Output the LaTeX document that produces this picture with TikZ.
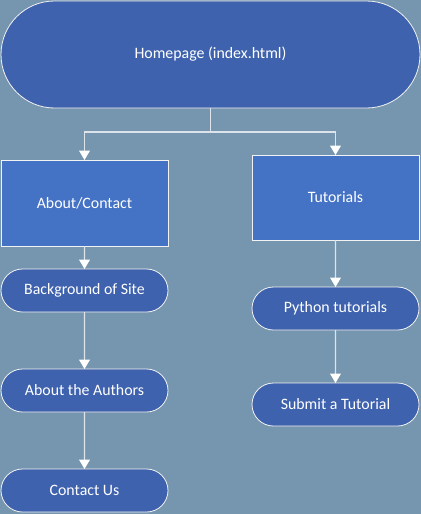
\documentclass[tikz,border=0pt]{standalone}
\usepackage{fontspec}
\setmainfont{Carlito}
\usetikzlibrary{arrows.meta,shapes.misc}
\definecolor{bg}{HTML}{7596AE}
\definecolor{darkfill}{HTML}{3E62AD}
\definecolor{lightfill}{HTML}{4472C4}
\definecolor{linec}{HTML}{DDE3EA}
\begin{document}
\begin{tikzpicture}[x=0.75pt,y=-0.75pt,
  base/.style={draw=white!90!gray,line width=0.6pt,text=white,font=\fontsize{11.9}{14}\selectfont,inner sep=0pt,outer sep=0pt},
  term/.style={base,rounded rectangle,fill=darkfill,minimum width=167*0.75pt,minimum height=43*0.75pt},
  box/.style={base,rectangle,fill=lightfill,minimum width=167*0.75pt,minimum height=86*0.75pt},
  conn/.style={draw=linec,line width=1pt,-{Triangle[width=8pt,length=7pt,fill=white,color=white]}}]
\fill[bg] (0,0) rectangle (421,514);
\useasboundingbox (0,0) rectangle (421,514);
\node[term,minimum width=419*0.75pt,minimum height=107*0.75pt] (home) at (210.5,54.5) {Homepage (index.html)};
\node[box] (about) at (84.5,203) {About/Contact};
\node[box,minimum height=85*0.75pt] (tut) at (335.5,197.5) {Tutorials};
\node[term] (bg1) at (84.5,290.5) {Background of Site};
\node[term] (auth) at (84.5,390.5) {About the Authors};
\node[term] (contact) at (84.5,490.5) {Contact Us};
\node[term] (py) at (335.5,308.5) {Python tutorials};
\node[term] (sub) at (335.5,404.5) {Submit a Tutorial};
\coordinate (mid) at (210.5,132);
\draw[draw=linec,line width=1pt] (home.south) -- (mid);
\draw[conn] (mid) -| (about.north);
\draw[conn] (mid) -| (tut.north);
\draw[conn] (about) -- (bg1);
\draw[conn] (bg1) -- (auth);
\draw[conn] (auth) -- (contact);
\draw[conn] (tut) -- (py);
\draw[conn] (py) -- (sub);
\end{tikzpicture}
\end{document}
